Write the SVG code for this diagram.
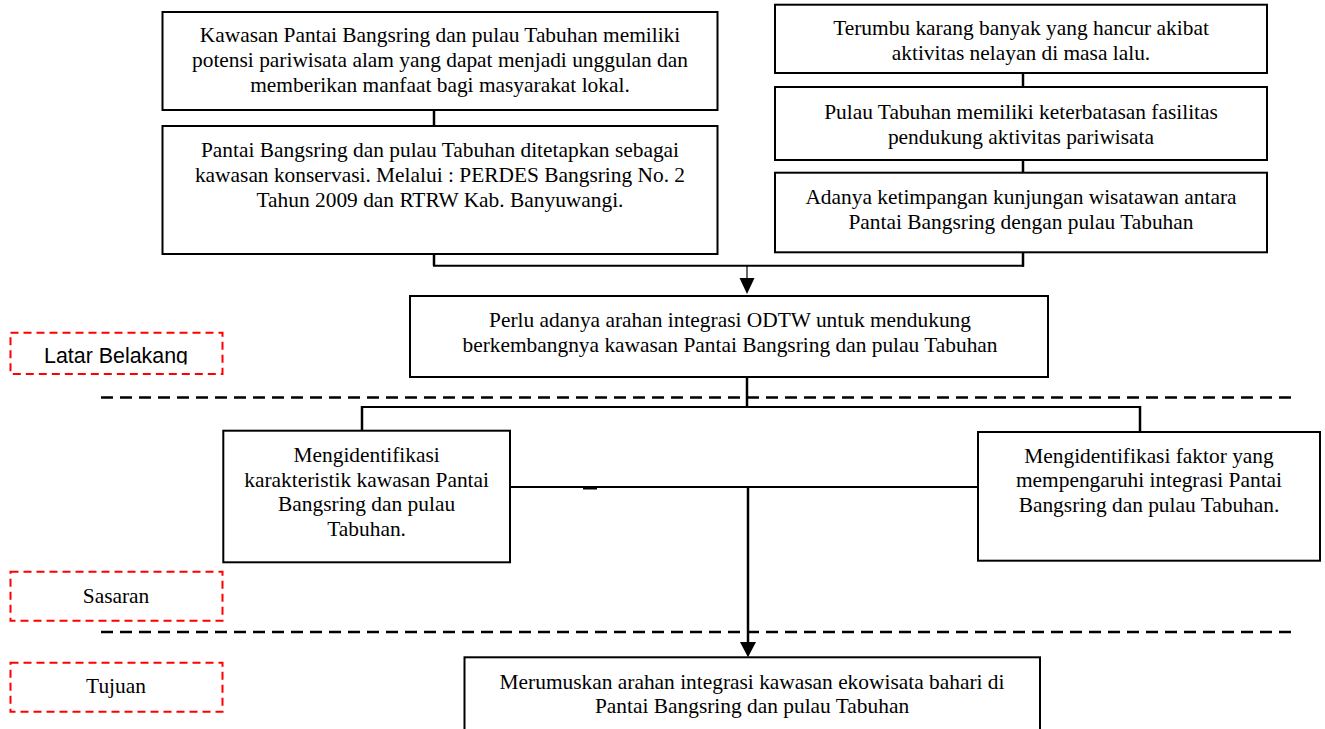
<svg xmlns="http://www.w3.org/2000/svg" width="1325" height="729" viewBox="0 0 1325 729">
<defs>
<style>
.box{fill:#fff;stroke:#000;stroke-width:2}
.lbl{fill:none;stroke:#ff0000;stroke-width:2;stroke-dasharray:8 5}
.sep{fill:none;stroke:#000;stroke-width:2.5;stroke-dasharray:12 7}
.ln{fill:none;stroke:#000;stroke-width:2}
.v{fill:none;stroke:#000;stroke-width:2.5}
.t{font-family:"Liberation Serif","Times New Roman",serif;font-size:21.4px;fill:#000;text-anchor:middle}
.s{font-family:"Liberation Sans",Arial,sans-serif;font-size:21.4px;fill:#000;text-anchor:middle}
</style>
<clipPath id="clipLB"><rect x="0" y="300" width="260" height="64.5"/></clipPath>
</defs>
<rect width="1325" height="729" fill="#fff"/>

<g id="separators">
<line class="sep" x1="101" y1="397.5" x2="1297" y2="397.5"/>
<line class="sep" x1="101" y1="632" x2="1297" y2="632"/>
</g>

<g id="connectors">
<line class="v" x1="434" y1="110" x2="434" y2="126"/>
<line class="v" x1="434" y1="254" x2="434" y2="265.7"/>
<line class="ln" x1="433" y1="265.7" x2="1024" y2="265.7"/>
<line class="v" x1="1023" y1="252" x2="1023" y2="266.7"/>
<line class="v" x1="1023" y1="73" x2="1023" y2="87"/>
<line class="v" x1="1023" y1="160" x2="1023" y2="172.7"/>
<line x1="747" y1="265.7" x2="747" y2="278" stroke="#000" stroke-width="1.2"/>
<path d="M739.5,278 L754.5,278 L747,294 Z" fill="#000"/>
<line class="v" x1="747" y1="377" x2="747" y2="407"/>
<line class="ln" x1="361" y1="407" x2="1141" y2="407"/>
<line class="v" x1="362" y1="406" x2="362" y2="430.7"/>
<line class="v" x1="1140" y1="406" x2="1140" y2="432"/>
<line class="ln" x1="510" y1="487" x2="978" y2="487"/>
<line class="ln" x1="583" y1="488.5" x2="597" y2="488.5"/>
<line class="v" x1="748" y1="487" x2="748" y2="643"/>
<path d="M740,642 L756,642 L748,657.3 Z" fill="#000"/>
</g>

<g id="nodeA">
<rect class="box" x="162.5" y="12" width="555" height="98"/>
<text class="t" x="440" y="41.7">Kawasan Pantai Bangsring dan pulau Tabuhan memiliki</text>
<text class="t" x="440" y="66.7">potensi pariwisata alam yang dapat menjadi unggulan dan</text>
<text class="t" x="440" y="91.7">memberikan manfaat bagi masyarakat lokal.</text>
</g>
<g id="nodeB">
<rect class="box" x="162.5" y="126" width="555" height="128"/>
<text class="t" x="440" y="156.7">Pantai Bangsring dan pulau Tabuhan ditetapkan sebagai</text>
<text class="t" x="440" y="181.7">kawasan konservasi. Melalui : PERDES Bangsring No. 2</text>
<text class="t" x="440" y="206.7">Tahun 2009 dan RTRW Kab. Banyuwangi.</text>
</g>
<g id="nodeC">
<rect class="box" x="775" y="4.7" width="492" height="68.3"/>
<text class="t" x="1021" y="35">Terumbu karang banyak yang hancur akibat</text>
<text class="t" x="1021" y="59.5">aktivitas nelayan di masa lalu.</text>
</g>
<g id="nodeD">
<rect class="box" x="775" y="87" width="492" height="73"/>
<text class="t" x="1021" y="118.5">Pulau Tabuhan memiliki keterbatasan fasilitas</text>
<text class="t" x="1021" y="143.5">pendukung aktivitas pariwisata</text>
</g>
<g id="nodeE">
<rect class="box" x="775" y="172.7" width="492" height="79.6"/>
<text class="t" x="1021" y="203.5">Adanya ketimpangan kunjungan wisatawan antara</text>
<text class="t" x="1021" y="228.5">Pantai Bangsring dengan pulau Tabuhan</text>
</g>
<g id="nodeF">
<rect class="box" x="410" y="296" width="638" height="81"/>
<text class="t" x="730" y="326.5">Perlu adanya arahan integrasi ODTW untuk mendukung</text>
<text class="t" x="730" y="351.5">berkembangnya kawasan Pantai Bangsring dan pulau Tabuhan</text>
</g>
<g id="nodeH">
<rect class="box" x="223.3" y="430.7" width="286.7" height="131.6"/>
<text class="t" x="366.6" y="462">Mengidentifikasi</text>
<text class="t" x="366.6" y="487">karakteristik kawasan Pantai</text>
<text class="t" x="366.6" y="511">Bangsring dan pulau</text>
<text class="t" x="366.6" y="535.5">Tabuhan.</text>
</g>
<g id="nodeG">
<rect class="box" x="978" y="432" width="342" height="128.7"/>
<text class="t" x="1149" y="462.5">Mengidentifikasi faktor yang</text>
<text class="t" x="1149" y="487">mempengaruhi integrasi Pantai</text>
<text class="t" x="1149" y="511.5">Bangsring dan pulau Tabuhan.</text>
</g>
<g id="nodeI">
<rect class="box" x="464.5" y="657.3" width="575.5" height="100"/>
<text class="t" x="752" y="688.5">Merumuskan arahan integrasi kawasan ekowisata bahari di</text>
<text class="t" x="752" y="712.5">Pantai Bangsring dan pulau Tabuhan</text>
</g>

<g id="labelLatar">
<rect class="lbl" x="10.5" y="332.7" width="212" height="41.3"/>
<text class="s" x="116" y="363" clip-path="url(#clipLB)">Latar Belakang</text>
</g>
<g id="labelSasaran">
<rect class="lbl" x="10.5" y="571.7" width="212" height="49"/>
<text class="t" x="116" y="602.5">Sasaran</text>
</g>
<g id="labelTujuan">
<rect class="lbl" x="10.5" y="662.7" width="212" height="49"/>
<text class="t" x="116" y="693">Tujuan</text>
</g>
</svg>
